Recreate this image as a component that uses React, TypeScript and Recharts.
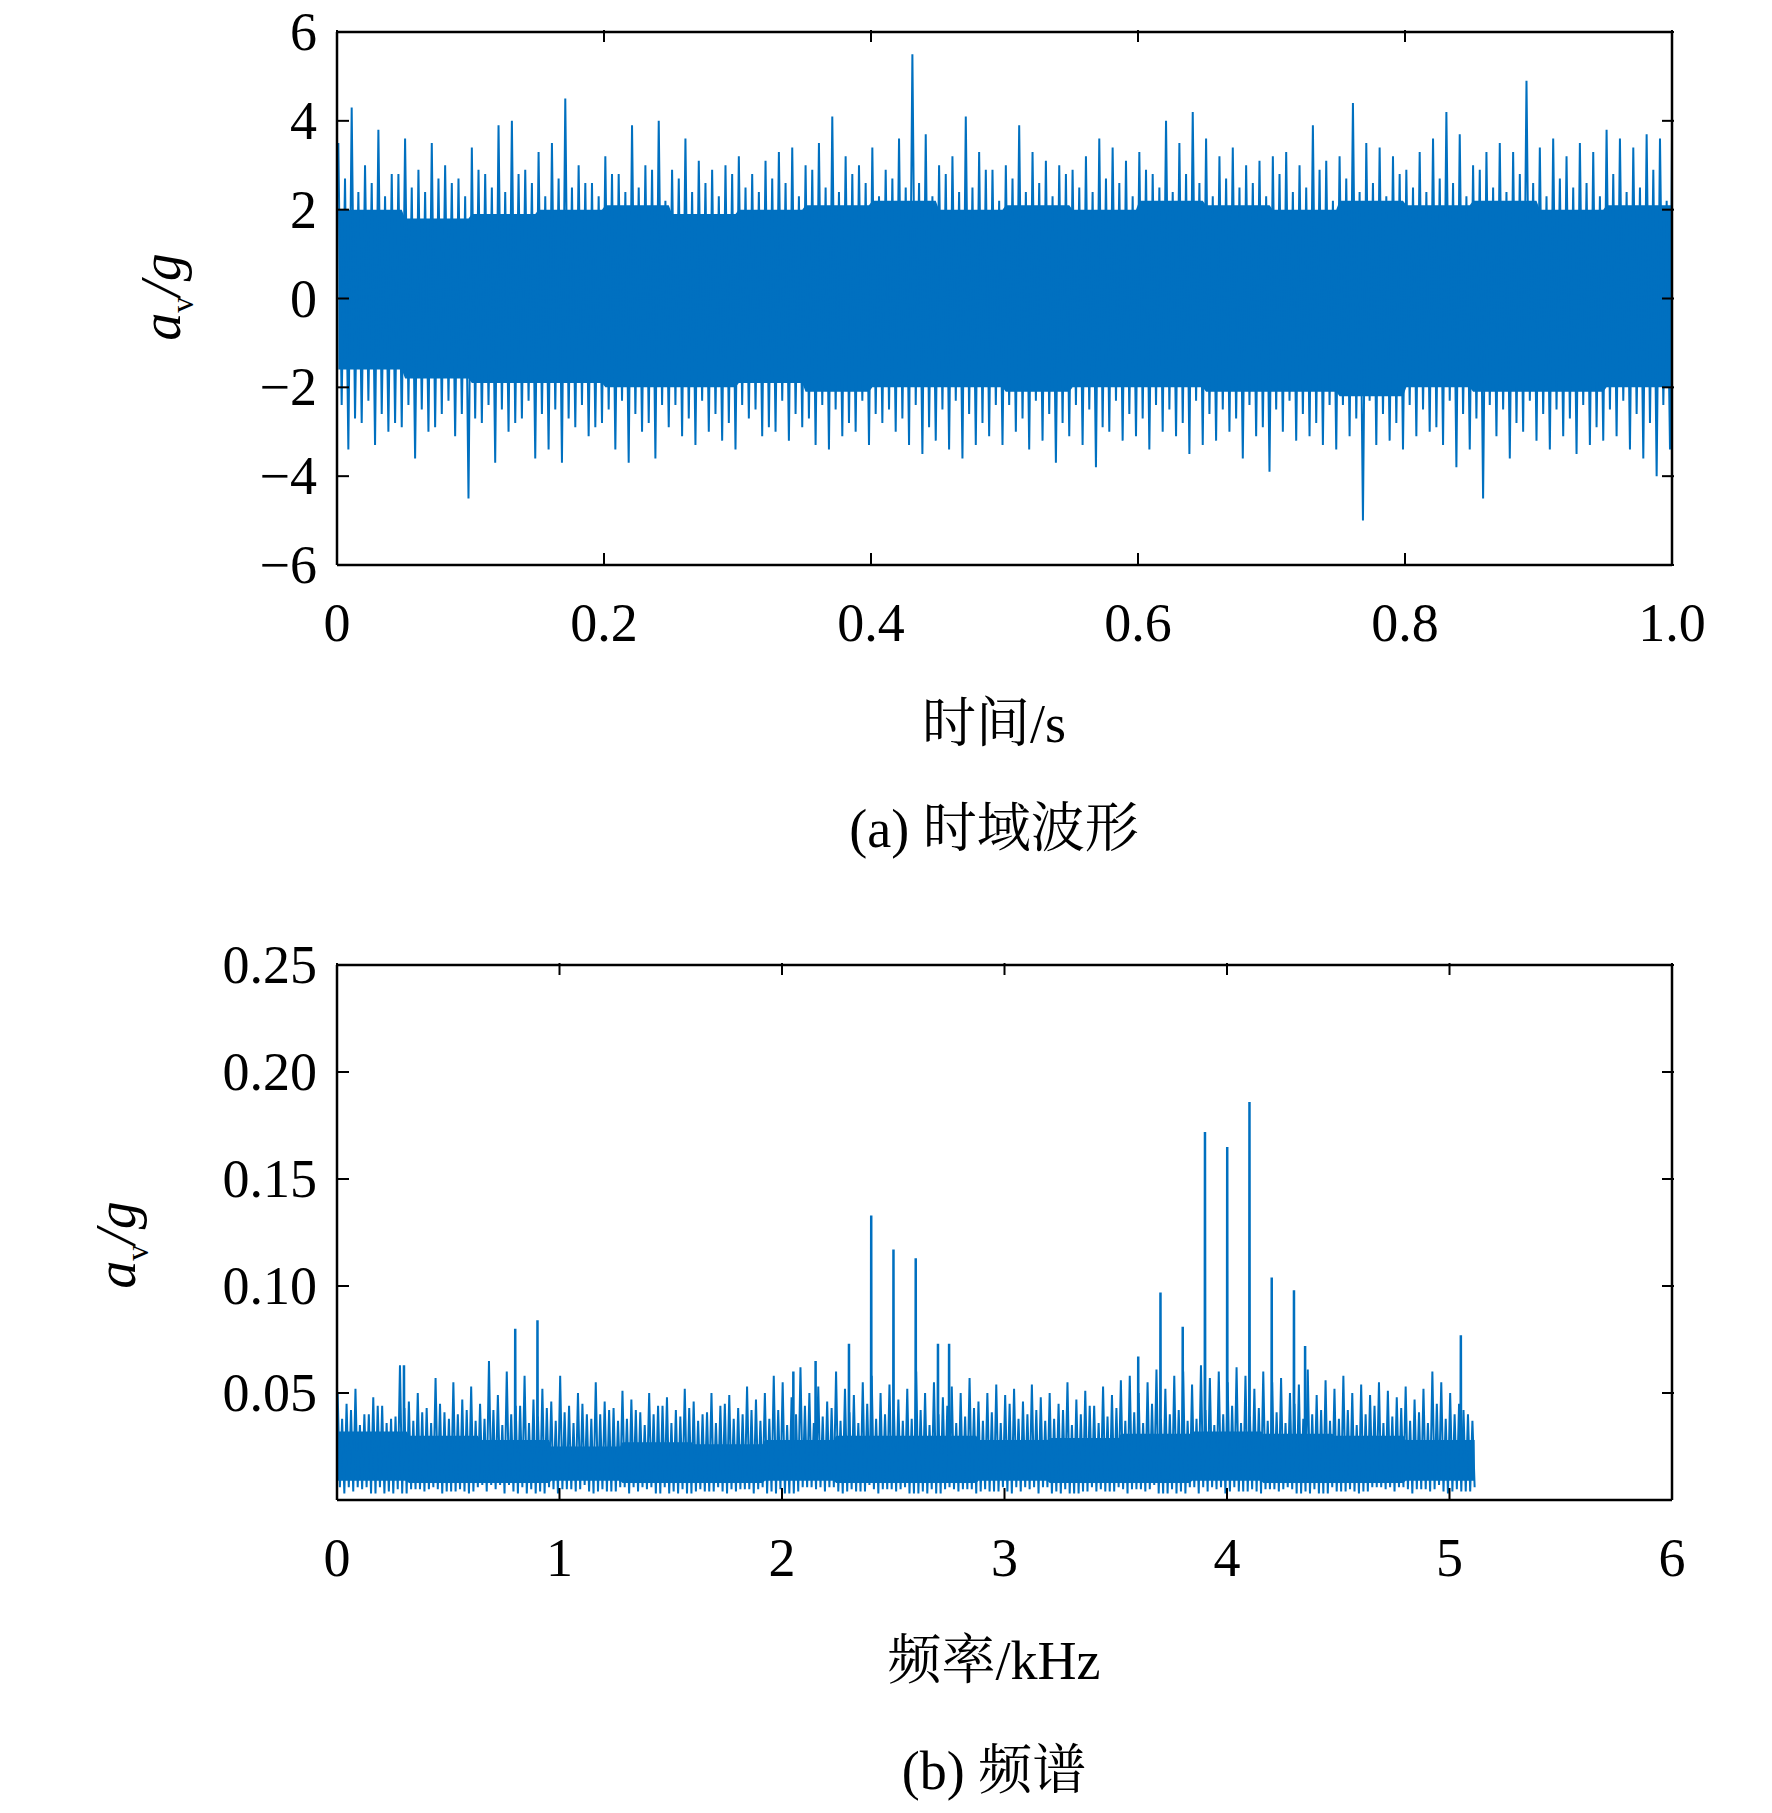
import React from "react";
import { ComposedChart, Line, Area, XAxis, YAxis } from "recharts";

const BLUE = "#0070c0";
const FONT = "'Liberation Serif', 'Times New Roman', serif";
const CJK = "'Liberation Serif', 'Noto Serif CJK SC', 'Noto Sans CJK SC', serif";

// ---- (a) time domain: per 0.01 s bin, upper / lower peaks (g)
const timeUpper = [3.5,4.3,3.0,3.8,2.8,3.6,2.9,3.5,3.0,2.7,3.4,2.8,3.9,4.0,2.9,3.3,3.5,4.5,3.0,2.6,3.2,2.8,3.9,3.0,4.0,2.9,3.6,3.1,2.9,3.0,3.2,2.8,3.1,3.3,3.4,3.0,3.5,4.1,3.2,3.0,3.4,2.9,3.6,5.5,3.7,3.0,3.2,4.1,3.3,2.9,3.0,3.9,3.3,3.1,3.0,2.9,3.2,3.6,3.4,3.1,3.3,2.8,4.0,3.5,4.2,3.6,3.2,3.4,3.0,3.1,3.2,3.3,3.0,3.9,3.1,3.2,4.4,3.5,3.4,3.2,2.9,3.3,3.6,4.2,3.7,3.0,3.3,3.5,3.3,4.9,3.4,3.6,3.2,3.5,3.3,3.8,3.6,3.4,3.7,3.6];
const timeLower = [-3.4,-2.8,-3.3,-3.0,-2.9,-3.6,-3.0,-2.6,-3.1,-4.5,-2.8,-3.7,-3.0,-2.7,-3.6,-3.4,-3.7,-2.9,-3.1,-2.8,-3.4,-3.7,-3.0,-3.6,-2.9,-3.1,-3.3,-3.0,-3.2,-3.4,-2.7,-3.1,-3.0,-3.2,-2.9,-3.3,-3.4,-3.1,-3.0,-3.3,-2.8,-3.0,-3.3,-3.5,-3.2,-3.4,-3.6,-3.3,-3.1,-3.3,-3.0,-3.4,-3.2,-3.7,-3.1,-3.3,-3.8,-3.0,-3.2,-3.1,-3.4,-3.0,-3.1,-3.5,-3.3,-3.2,-3.0,-3.6,-3.1,-3.9,-3.0,-3.2,-3.1,-3.3,-3.4,-3.1,-5.0,-3.3,-3.2,-3.4,-3.1,-3.0,-3.3,-3.8,-3.4,-4.5,-3.1,-3.6,-3.0,-3.2,-3.4,-3.1,-3.5,-3.3,-3.2,-3.1,-3.4,-3.6,-4.0,-3.4];
// secondary excursions inside each bin
const timeMidHi = [2.6,2.3,2.8,2.4,2.5,2.9,2.2,2.7,2.4,2.6,2.3,2.8,2.5,2.4,2.7,2.6,2.3,2.9,2.5,2.4,2.8,2.6,2.3,2.7,2.5];
const timeMidLo = [-2.4,-2.7,-2.3,-2.6,-2.8,-2.4,-2.5,-2.9,-2.3,-2.6,-2.7,-2.4,-2.5,-2.8,-2.3,-2.6,-2.5,-2.7,-2.4,-2.9,-2.5,-2.3,-2.6,-2.8,-2.4];
// dense core band per 0.05 s
const timeCoreHi = [2.0,1.8,1.9,2.0,2.1,1.9,2.0,2.1,2.2,2.0,2.1,2.0,2.2,2.1,2.0,2.2,2.1,2.2,2.0,2.1];
const timeCoreLo = [-1.6,-1.8,-1.9,-1.9,-2.0,-2.0,-1.9,-2.1,-2.0,-2.0,-2.1,-2.0,-2.0,-2.1,-2.1,-2.2,-2.0,-2.1,-2.1,-2.0];
const timeTicksX = [0, 0.2, 0.4, 0.6, 0.8, 1.0];
const timeTicksY = [-6, -4, -2, 0, 2, 4, 6];

// ---- (b) spectrum: per 0.04 kHz bin upper values (g)
const specUpper = [.050,.045,.052,.040,.048,.044,.038,.063,.046,.050,.043,.057,.041,.055,.047,.053,.045,.065,.049,.060,.044,.058,.047,.052,.046,
.058,.044,.050,.040,.055,.046,.043,.051,.047,.041,.050,.044,.048,.042,.052,.046,.040,.050,.044,.049,.043,.053,.047,.050,.058,
.055,.048,.062,.050,.053,.046,.060,.052,.049,.055,.058,.050,.054,.047,.052,.060,.050,.055,.048,.053,.050,.057,.046,.050,.054,
.049,.052,.046,.054,.048,.050,.045,.055,.047,.051,.044,.053,.049,.056,.058,.050,.055,.061,.052,.058,.060,.054,.063,.057,.060,
.055,.062,.058,.052,.060,.055,.057,.050,.054,.061,.049,.056,.052,.058,.050,.054,.049,.055,.051,.048,.053,.047,.052,.060,.055,.050,.045,.040];
const specLower = [.006,.003,.005,.004,.007,.003,.005,.004,.006,.003,.004,.005,.003,.006,.004,.005,.003,.005,.004,.006,.003,.004,.005,.003,.006,.004,.005,.003,.004,.006,.005,.004];
const specMid = [.038,.042,.035,.040,.044,.036,.039,.043,.037,.041,.036,.045,.038,.040,.042,.037];
const specCoreHi = [.032,.030,.028,.025,.027,.026,.028,.030,.030,.028,.029,.031,.032,.031,.030,.028];
const specCoreLo = [.009,.008,.008,.009,.008,.008,.009,.008,.008,.009,.008,.008,.009,.008,.008,.009];
const peakFreq = [0.3, 0.8, 0.9, 2.05, 2.15, 2.3, 2.4, 2.5, 2.6, 2.7, 2.75, 3.6, 3.7, 3.8, 3.9, 4.0, 4.1, 4.2, 4.3, 4.35, 5.05];
const peakAmp = [0.063, 0.080, 0.084, 0.060, 0.065, 0.073, 0.133, 0.117, 0.113, 0.073, 0.073, 0.067, 0.097, 0.081, 0.172, 0.165, 0.186, 0.104, 0.098, 0.072, 0.077];
const specTicksX = [0, 1, 2, 3, 4, 5, 6];
const specTicksY = [0.05, 0.10, 0.15, 0.20, 0.25];

const timeData: any[] = [];
timeUpper.forEach((u, i) => {
  const c = Math.floor(i / 5);
  const core = [timeCoreLo[c], timeCoreHi[c]];
  const m = i % 25;
  timeData.push({ x: i * 0.01 + 0.001, v: u, core });
  timeData.push({ x: i * 0.01 + 0.0035, v: timeMidLo[m], core });
  timeData.push({ x: i * 0.01 + 0.006, v: timeMidHi[(m + 7) % 25], core });
  timeData.push({ x: i * 0.01 + 0.0085, v: timeLower[i], core });
});
timeData.push({ x: 1.0, v: 3.6, core: [timeCoreLo[19], timeCoreHi[19]] });

const specData: any[] = [];
specUpper.forEach((u, i) => {
  const c = Math.floor(i / 8);
  const core = [specCoreLo[c], specCoreHi[c]];
  specData.push({ x: i * 0.04 + 0.003, v: u, core });
  specData.push({ x: i * 0.04 + 0.013, v: specLower[Math.floor(i / 4)], core });
  specData.push({ x: i * 0.04 + 0.023, v: specMid[i % 16], core });
  specData.push({ x: i * 0.04 + 0.033, v: specLower[(i + 9) % 32], core });
});
const peakData: any[] = [];
peakFreq.forEach((f, i) => {
  peakData.push({ x: f, v: 0.02 });
  peakData.push({ x: f + 0.001, v: peakAmp[i] });
  peakData.push({ x: f + 0.002, v: 0.02 });
});

const fmtTime = (v: number) => (v === 0 ? "0" : v.toFixed(1));
const fmtMinus = (v: number) => (v < 0 ? "\u2212" + Math.abs(v) : String(v));
const fmtSpec = (v: number) => v.toFixed(2);

const FS = 54;
const BottomTick = (fmt: (v: number) => string) => (p: any) => (
  <g>
    <line x1={p.x} x2={p.x} y1={p.y} y2={p.y - 12} stroke="#000" strokeWidth={2} />
    <text x={p.x} y={p.y + 76} textAnchor="middle" fontFamily={FONT} fontSize={FS} fill="#000">{fmt(p.payload.value)}</text>
  </g>
);
const TopTick = (p: any) => <line x1={p.x} x2={p.x} y1={p.y} y2={p.y + 12} stroke="#000" strokeWidth={2} />;
const LeftTick = (fmt: (v: number) => string) => (p: any) => (
  <g>
    <line x1={p.x} x2={p.x + 12} y1={p.y} y2={p.y} stroke="#000" strokeWidth={2} />
    <text x={p.x - 20} y={p.y + 18} textAnchor="end" fontFamily={FONT} fontSize={FS} fill="#000">{fmt(p.payload.value)}</text>
  </g>
);
const RightTick = (p: any) => <line x1={p.x} x2={p.x - 12} y1={p.y} y2={p.y} stroke="#000" strokeWidth={2} />;

const axisStroke = { stroke: "#000", strokeWidth: 2.5 };

function Panel(props: any) {
  const { data, extra, xTicks, yTicks, xDom, yDom, fx, fy, height } = props;
  return (
    <ComposedChart width={1772} height={height} data={data} margin={{ top: 31, right: 99, left: 0, bottom: 0 }}>
      <XAxis xAxisId="b" dataKey="x" type="number" domain={xDom} ticks={xTicks} allowDataOverflow
        axisLine={axisStroke} tickLine={false} tickSize={0} tickMargin={0} height={92} interval={0} tick={BottomTick(fx)} />
      <XAxis xAxisId="t" dataKey="x" type="number" orientation="top" domain={xDom} ticks={xTicks} allowDataOverflow
        axisLine={axisStroke} tickLine={false} tickSize={0} height={1} interval={0} tick={TopTick} />
      <YAxis yAxisId="l" type="number" domain={yDom} ticks={yTicks} allowDataOverflow width={337}
        axisLine={axisStroke} tickLine={false} tickSize={0} tickMargin={0} interval={0} tick={LeftTick(fy)} />
      <YAxis yAxisId="r" type="number" orientation="right" domain={yDom} ticks={yTicks} allowDataOverflow width={1}
        axisLine={axisStroke} tickLine={false} tickSize={0} interval={0} tick={RightTick} />
      <Area xAxisId="b" yAxisId="l" dataKey="core" type="linear" stroke="none" fill={BLUE} fillOpacity={1} isAnimationActive={false} />
      <Line xAxisId="b" yAxisId="l" dataKey="v" type="linear" stroke={BLUE} strokeWidth={2} dot={false} isAnimationActive={false} />
      {extra && (
        <Line xAxisId="b" yAxisId="l" data={extra} dataKey="v" type="linear" stroke={BLUE} strokeWidth={2.5} dot={false} isAnimationActive={false} />
      )}
    </ComposedChart>
  );
}

const labelStyle: React.CSSProperties = { position: "absolute", fontFamily: CJK, fontSize: 54, color: "#000", whiteSpace: "nowrap", transform: "translateX(-50%)" };

function YLabel({ x, y }: { x: number; y: number }) {
  return (
    <div style={{ position: "absolute", left: x, top: y, transform: "translate(-50%,-50%) rotate(-90deg)", fontFamily: FONT, fontSize: 56, fontStyle: "italic", whiteSpace: "nowrap" }}>
      a<sub style={{ fontSize: 32, fontStyle: "normal" }}>v</sub>/g
    </div>
  );
}

export default function App() {
  return (
    <div style={{ position: "absolute", left: 0, top: 0, width: 1772, height: 1813, background: "#fff" }}>
      <div style={{ position: "absolute", left: 0, top: 0 }}>
        <Panel height={657} data={timeData} xTicks={timeTicksX} yTicks={timeTicksY} xDom={[0, 1]} yDom={[-6, 6]} fx={fmtTime} fy={fmtMinus} />
      </div>
      <div style={{ position: "absolute", left: 0, top: 933 }}>
        <Panel height={659} data={specData} extra={peakData} xTicks={specTicksX} yTicks={specTicksY} xDom={[0, 6]} yDom={[0, 0.25]} fx={(v: number) => String(v)} fy={fmtSpec} />
      </div>
      <YLabel x={165} y={297} />
      <YLabel x={120} y={1245} />
      <div style={{ ...labelStyle, left: 994, top: 680 }}>时间/s</div>
      <div style={{ ...labelStyle, left: 994, top: 785 }}>(a) 时域波形</div>
      <div style={{ ...labelStyle, left: 994, top: 1617 }}>频率/kHz</div>
      <div style={{ ...labelStyle, left: 994, top: 1727 }}>(b) 频谱</div>
    </div>
  );
}
